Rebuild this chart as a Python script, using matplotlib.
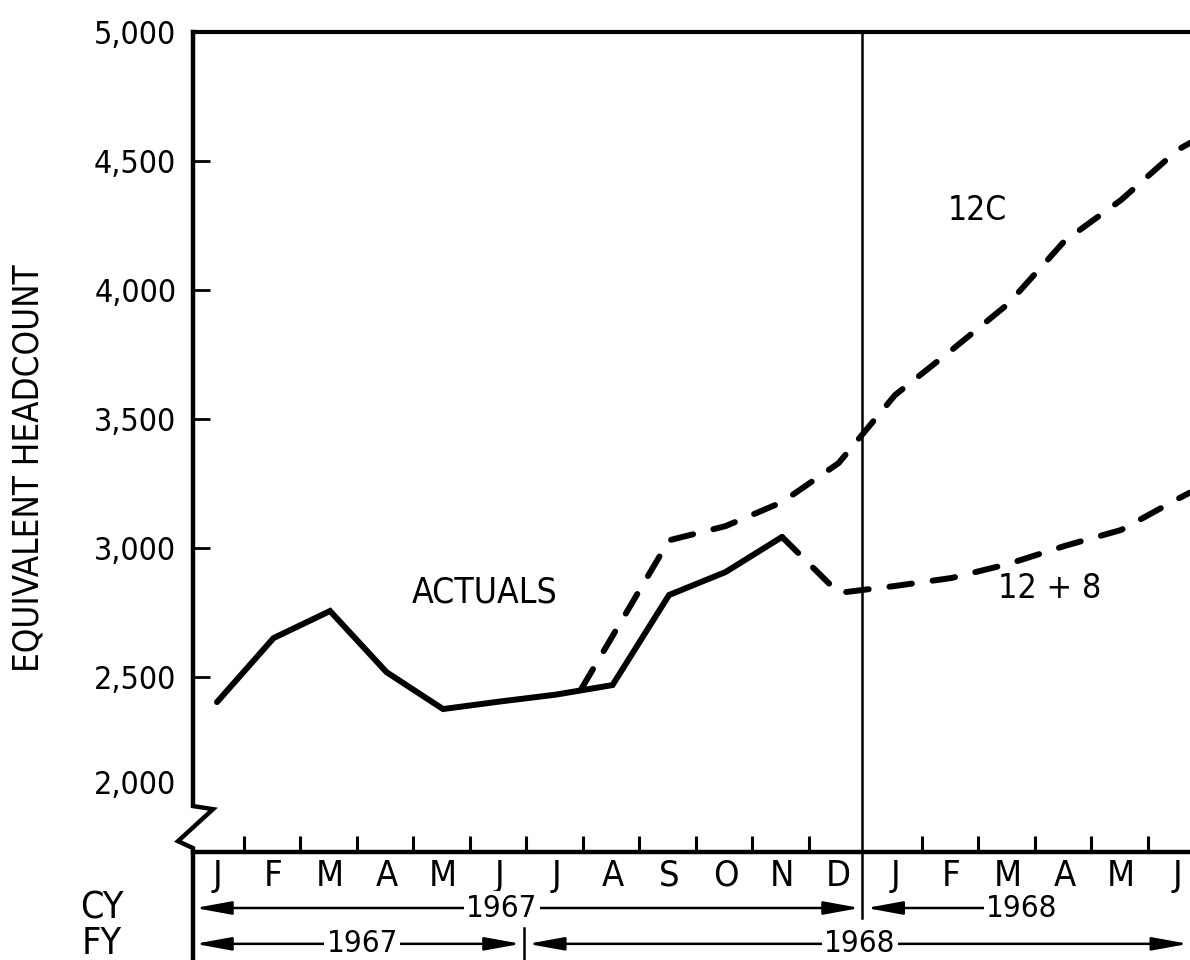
import matplotlib
matplotlib.use('Agg')
import matplotlib.pyplot as plt
import numpy as np
from matplotlib import font_manager as fm
from matplotlib.transforms import blended_transform_factory, ScaledTranslation

# ---- pick a condensed sans font if one is installed ----
def _find_condensed():
    prefs = ['Liberation Sans Narrow', 'DejaVu Sans Condensed', 'Roboto Condensed',
             'Open Sans Condensed', 'Noto Sans Condensed', 'Arial Narrow']
    cands = []
    for f in fm.fontManager.ttflist:
        fn = f.fname.lower()
        if any(k in fn for k in ('bold', 'italic', 'oblique', 'light', 'thin', 'black',
                                  'medium', 'semi', 'extra')):
            continue
        nm = f.name + ' ' + fn
        if 'narrow' in nm.lower() or 'condensed' in nm.lower() or f.stretch in ('condensed', 'semi-condensed'):
            cands.append(f)
    for p in prefs:
        key = p.lower().replace(' ', '')
        for f in cands:
            if key in (f.name + f.fname).lower().replace(' ', '').replace('-', ''):
                return f.fname
    return cands[0].fname if cands else None

COND = _find_condensed()

def fp(size):
    if COND:
        return fm.FontProperties(fname=COND, size=size)
    return fm.FontProperties(family=['Liberation Sans', 'DejaVu Sans'], size=size)

SC = 1.0 if COND else 0.92   # regular fonts are wider; shrink a little

plt.rcParams['font.family'] = ['Liberation Sans', 'DejaVu Sans']

# ---------------- data ----------------
months = ['J', 'F', 'M', 'A', 'M', 'J', 'J', 'A', 'S', 'O', 'N', 'D',
          'J', 'F', 'M', 'A', 'M', 'J']          # index 0 = Jan 1967

actual_x = [0, 1, 2, 3, 4, 5, 6, 7, 8, 9, 10]
actual_y = [2403, 2651, 2756, 2519, 2376, 2405, 2432, 2469, 2818, 2907, 3043]

plan12c_x = [6.45, 8, 9, 10, 11, 12, 13, 14, 15, 16, 17, 17.22]
plan12c_y = [2455, 3030, 3085, 3178, 3329, 3593, 3767, 3946, 4190, 4349, 4543, 4570]

plan128_x = [10, 11, 12, 13, 14, 15, 16, 17, 17.22]
plan128_y = [3043, 2826, 2853, 2884, 2938, 3008, 3070, 3190, 3215]

yticks = [2000, 2500, 3000, 3500, 4000, 4500, 5000]

# ---------------- figure ----------------
fig = plt.figure(figsize=(11.9, 9.6), dpi=100)
ax = fig.add_axes([193 / 1190, 108 / 960, (1190 - 193) / 1190, 820 / 960])

XL, XR = -0.425, 17.22
YB, YT = 1822, 5000
ax.set_xlim(XL, XR)
ax.set_ylim(YB, YT)

LW = 4.3
ax.plot(actual_x, actual_y, color='black', lw=LW, solid_joinstyle='miter',
        solid_capstyle='round', zorder=3)
ax.plot(plan12c_x, plan12c_y, color='black', lw=LW, dashes=(3.8, 3.5),
        dash_capstyle='round', zorder=3)
ax.plot(plan128_x, plan128_y, color='black', lw=LW, dashes=(3.8, 3.5),
        dash_capstyle='round', zorder=3)

# spines
for s in ['left', 'right']:
    ax.spines[s].set_visible(False)
ax.spines['top'].set_linewidth(3.0)
ax.spines['bottom'].set_linewidth(3.2)

# left axis with break zigzag, extended below chart
ax.plot([XL, XL, XL + 0.354, XL - 0.265, XL, XL],
        [YT, 2000, 1988, 1864, 1837, 1403],
        color='black', lw=3.2, clip_on=False, solid_joinstyle='miter', zorder=4)

# y ticks
ax.set_yticks(yticks)
ax.set_yticklabels([f'{v:,}' for v in yticks], fontproperties=fp(23 * SC))
ax.tick_params(axis='y', direction='in', length=12, width=2, pad=12, left=True)
yt = ax.yaxis.get_major_ticks()
for i in (0, len(yt) - 1):
    yt[i].tick1line.set_visible(False)
lab0 = yt[0].label1
lab0.set_transform(lab0.get_transform() + ScaledTranslation(0, 17 / 72, fig.dpi_scale_trans))

# x ticks: boundaries (marks) + month centres (labels)
bounds = [i + 0.47 for i in range(17) if i != 11]
ax.set_xticks(bounds)
ax.set_xticklabels([])
ax.tick_params(axis='x', which='major', direction='in', length=11.5, width=2.2)
ax.set_xticks(range(len(months)), minor=True)
ax.set_xticklabels(months, minor=True, fontproperties=fp(26 * SC))
ax.tick_params(axis='x', which='minor', length=0, pad=5)

blend = blended_transform_factory(ax.transData, ax.transAxes)

# vertical calendar-year separator
ax.plot([11.42, 11.42], [1, -0.08], transform=blend, color='black', lw=1.8,
        clip_on=False, zorder=4)
# fiscal-year separator
ax.plot([5.43, 5.43], [-0.093, -0.135], transform=blend, color='black', lw=1.8,
        clip_on=False)

# annotations
ax.text(4.73, 2829, 'ACTUALS', fontproperties=fp(25.5 * SC), ha='center', va='center')
ax.text(13.45, 4310, '12C', fontproperties=fp(24 * SC), ha='center', va='center')
ax.text(14.74, 2845, '12 + 8', fontproperties=fp(24.5 * SC), ha='center', va='center')

# CY / FY rows
CY_Y, FY_Y = -0.0683, -0.112
ax.text(-2.04, CY_Y, 'CY', transform=blend, fontproperties=fp(27 * SC), ha='center', va='center')
ax.text(-2.04, FY_Y, 'FY', transform=blend, fontproperties=fp(27 * SC), ha='center', va='center')

def span(x0, x1, y, label, xl, style='<|-|>'):
    ax.annotate('', xy=(x1, y), xytext=(x0, y), xycoords=blend, textcoords=blend,
                annotation_clip=False,
                arrowprops=dict(arrowstyle=style + ',head_length=2.2,head_width=0.4',
                                color='black', lw=1.8, shrinkA=0, shrinkB=0,
                                mutation_scale=10))
    ax.text(xl, y, label, transform=blend, fontproperties=fp(22.5 * SC),
            ha='center', va='center',
            bbox=dict(facecolor='white', edgecolor='none', pad=1.5), zorder=5)

span(-0.39, 11.38, CY_Y, '1967', 5.04)
span(11.49, 14.24, CY_Y, '1968', 14.24, style='<|-')
span(-0.39, 5.38, FY_Y, '1967', 2.57)
span(5.50, 17.19, FY_Y, '1968', 11.38)

fig.text(29 / 1190, 1 - 468 / 960, 'EQUIVALENT HEADCOUNT', rotation=90,
         fontproperties=fp(25 * SC), ha='center', va='center')

fig.savefig('out.png', dpi=100, facecolor='white')
